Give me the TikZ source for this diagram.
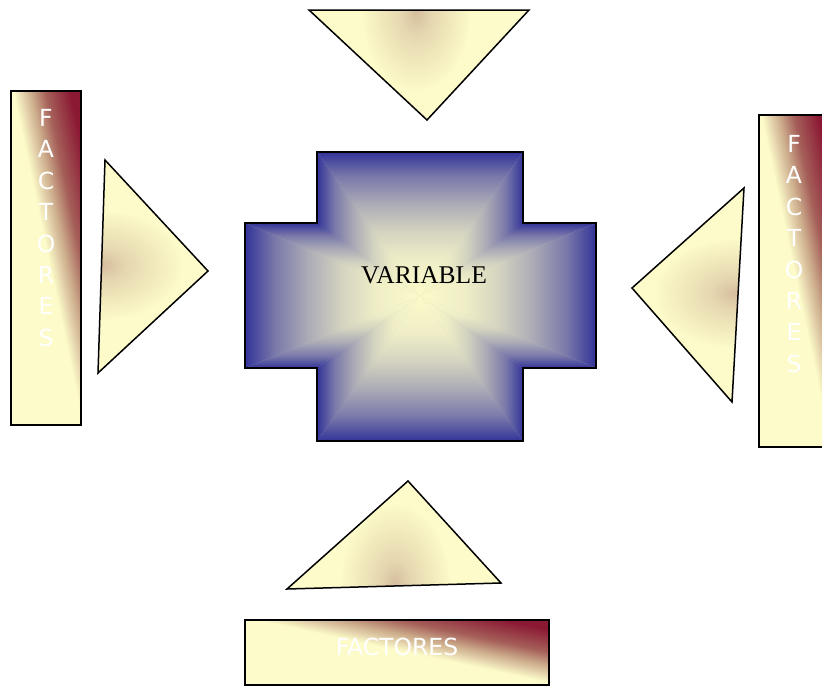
\documentclass[tikz,border=0pt]{standalone}
\usepackage{fontspec}
\setmainfont{Liberation Serif}
\newfontfamily\labelfont{DejaVu Sans}

% palette
\definecolor{cream}{HTML}{FCFBC9}
\definecolor{tanspot}{HTML}{D6BE9E}
\definecolor{lighttan}{HTML}{E6D5AE}
\definecolor{tanmid}{HTML}{CBAA8A}
\definecolor{rosy}{HTML}{A6605A}
\definecolor{maroon}{HTML}{8A1733}
\definecolor{crossblue}{HTML}{333399}
\definecolor{crosscream}{HTML}{FCFBCA}

% rim shadings of the cross: cream at the centre, blue at the rim (slow start, fast finish)
\pgfdeclarehorizontalshading{rimright}{100bp}{%
  color(0bp)=(crosscream); color(25bp)=(crosscream); color(38bp)=(crossblue!7!crosscream);
  color(47.5bp)=(crossblue!20!crosscream); color(57bp)=(crossblue!40!crosscream);
  color(66.5bp)=(crossblue!65!crosscream); color(75bp)=(crossblue); color(100bp)=(crossblue)}
\pgfdeclarehorizontalshading{rimleft}{100bp}{%
  color(0bp)=(crossblue); color(25bp)=(crossblue); color(33.5bp)=(crossblue!65!crosscream);
  color(43bp)=(crossblue!40!crosscream); color(52.5bp)=(crossblue!20!crosscream);
  color(62bp)=(crossblue!7!crosscream); color(75bp)=(crosscream); color(100bp)=(crosscream)}
\pgfdeclareverticalshading{rimtop}{100bp}{%
  color(0bp)=(crosscream); color(25bp)=(crosscream); color(38bp)=(crossblue!7!crosscream);
  color(47.5bp)=(crossblue!20!crosscream); color(57bp)=(crossblue!40!crosscream);
  color(66.5bp)=(crossblue!65!crosscream); color(75bp)=(crossblue); color(100bp)=(crossblue)}
\pgfdeclareverticalshading{rimbottom}{100bp}{%
  color(0bp)=(crossblue); color(25bp)=(crossblue); color(33.5bp)=(crossblue!65!crosscream);
  color(43bp)=(crossblue!40!crosscream); color(52.5bp)=(crossblue!20!crosscream);
  color(62bp)=(crossblue!7!crosscream); color(75bp)=(crosscream); color(100bp)=(crosscream)}

% soft tan spot inside the pointers
\pgfdeclareradialshading{tanglow}{\pgfpoint{0bp}{0bp}}{%
  color(0bp)=(tanspot); color(7bp)=(tanspot!60!cream); color(25bp)=(cream); color(50bp)=(cream)}

% diagonal ramp of a FACTORES box, drawn in the unit square (s,t), t pointing up:
% colour depends on u=(s+t)/2, cream below u=0.52 and maroon at the upper-right corner
\newcommand\factorramp{%
  \fill[cream] (0,0) rectangle (1,1);
  \foreach \ua/\ub/\ca/\cb in {0.52/0.58/cream/lighttan, 0.58/0.65/lighttan/tanmid,
                               0.65/0.75/tanmid/rosy, 0.75/0.93/rosy/maroon}{%
    \foreach \k in {0,...,13}{%
      \pgfmathsetmacro\uu{\ua+(\ub-\ua)*\k/14}%
      \pgfmathsetmacro\pp{100*(\k+0.5)/14}%
      \fill[\cb!\pp!\ca] ({2*\uu-2},2) -- (2,2) -- (2,{2*\uu-2}) -- cycle;
    }%
  }%
  \fill[maroon] (0.86,2) -- (2,2) -- (2,0.86) -- cycle;
}

\tikzset{
  outline/.style={draw=black, line width=1.5pt, line join=miter},
  factortext/.style={text=white, font=\labelfont\fontsize{23.5}{31.4}\selectfont, align=center, inner sep=0pt},
  vartext/.style={text=black, font=\fontsize{25.5}{28}\selectfont, inner sep=0pt},
}

\begin{document}
\begin{tikzpicture}[x=1pt, y=-1pt]
\useasboundingbox (0,0) rectangle (822,686);
\clip (0,0) rectangle (822,686);

% ---------- central cross: path gradient, blue rim to cream centre ----------
\coordinate (c) at (420,296);
\fill[crossblue!30!crosscream]
  (317,152) -- (523,152) -- (523,223) -- (596,223) -- (596,368) -- (523,368)
  -- (523,441) -- (317,441) -- (317,368) -- (245,368) -- (245,223) -- (317,223) -- cycle;
\shade[shading=rimtop]    (c) -- (317,152) -- (523,152) -- cycle;
\shade[shading=rimright]  (c) -- (523,152) -- (523,223) -- cycle;
\shade[shading=rimtop]    (c) -- (523,223) -- (596,223) -- cycle;
\shade[shading=rimright]  (c) -- (596,223) -- (596,368) -- cycle;
\shade[shading=rimbottom] (c) -- (596,368) -- (523,368) -- cycle;
\shade[shading=rimright]  (c) -- (523,368) -- (523,441) -- cycle;
\shade[shading=rimbottom] (c) -- (523,441) -- (317,441) -- cycle;
\shade[shading=rimleft]   (c) -- (317,441) -- (317,368) -- cycle;
\shade[shading=rimbottom] (c) -- (317,368) -- (245,368) -- cycle;
\shade[shading=rimleft]   (c) -- (245,368) -- (245,223) -- cycle;
\shade[shading=rimtop]    (c) -- (245,223) -- (317,223) -- cycle;
\shade[shading=rimleft]   (c) -- (317,223) -- (317,152) -- cycle;
\draw[outline]
  (317,152) -- (523,152) -- (523,223) -- (596,223) -- (596,368) -- (523,368)
  -- (523,441) -- (317,441) -- (317,368) -- (245,368) -- (245,223) -- (317,223) -- cycle;
\node[vartext] (var) at (424,275) {VARIABLE};

% ---------- pointers ----------
% top
\begin{scope}
  \clip (309,10) -- (529,10) -- (427,120) -- cycle;
  \fill[cream] (309,10) rectangle (529,120);
  \shade[shading=tanglow] (416,12) ellipse [x radius=55, y radius=80];
\end{scope}
\draw[outline] (309,10) -- (529,10) -- (427,120) -- cycle;

% left
\begin{scope}
  \clip (105,160) -- (208,271) -- (98,373) -- cycle;
  \fill[cream] (98,160) rectangle (208,373);
  \shade[shading=tanglow] (103,265) ellipse [x radius=80, y radius=55];
\end{scope}
\draw[outline] (105,160) -- (208,271) -- (98,373) -- cycle;

% right
\begin{scope}
  \clip (744,188) -- (632,288) -- (732,402) -- cycle;
  \fill[cream] (632,188) rectangle (744,402);
  \shade[shading=tanglow] (734,293) ellipse [x radius=80, y radius=55];
\end{scope}
\draw[outline] (744,188) -- (632,288) -- (732,402) -- cycle;

% bottom
\begin{scope}
  \clip (287,589) -- (408,481) -- (501,583) -- cycle;
  \fill[cream] (287,481) rectangle (501,589);
  \shade[shading=tanglow] (395,583) ellipse [x radius=55, y radius=80];
\end{scope}
\draw[outline] (287,589) -- (408,481) -- (501,583) -- cycle;

% ---------- FACTORES boxes ----------
\begin{scope}[shift={(11,425)}, xscale=70, yscale=-334]
  \clip (0,0) rectangle (1,1);
  \factorramp
\end{scope}
\draw[outline] (11,91) rectangle (81,425);
\node[factortext] (facleft) at (46,228) {F\\A\\C\\T\\O\\R\\E\\S};

\begin{scope}[shift={(759,447)}, xscale=70, yscale=-332]
  \clip (0,0) rectangle (1,1);
  \factorramp
\end{scope}
\draw[outline] (759,115) rectangle (829,447);
\node[factortext] (facright) at (794,254) {F\\A\\C\\T\\O\\R\\E\\S};

\begin{scope}[shift={(245,685)}, xscale=304, yscale=-65]
  \clip (0,0) rectangle (1,1);
  \factorramp
\end{scope}
\draw[outline] (245,620) rectangle (549,685);
\node[factortext] (facbottom) at (397,647) {FACTORES};
\end{tikzpicture}
\end{document}
